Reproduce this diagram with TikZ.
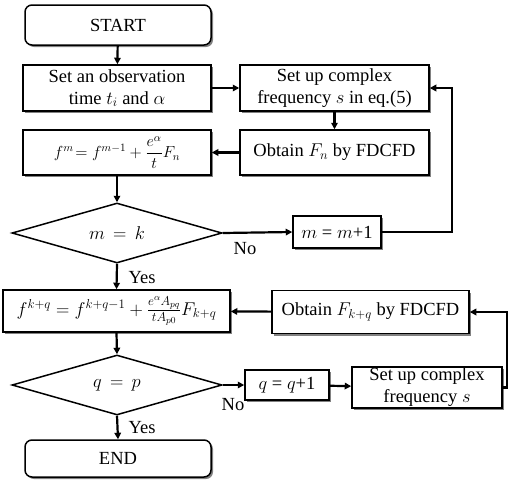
\RequirePackage{fix-cm}
\documentclass[tikz,border=0pt]{standalone}
\usepackage{amsmath}
\usepackage{fontspec}
\setmainfont{Liberation Serif}
\usetikzlibrary{shapes.geometric,shadows,arrows.meta}
\begin{document}
\begin{tikzpicture}[x=1pt,y=-1pt,
  font=\fontsize{18.5}{22}\selectfont,
  shad/.style={drop shadow={shadow xshift=2pt,shadow yshift=-2pt,fill=black!70,opacity=0.7}},
  box/.style={draw,line width=1.5pt,fill=white,shad,align=center,inner sep=1pt},
  term/.style={box,rounded corners=7pt},
  dec/.style={diamond,draw,line width=1.5pt,fill=white,inner sep=0pt,aspect=3.5},
  arr/.style={line width=2.2pt,-{Triangle[length=6.5pt,width=6.5pt]}},
  lab/.style={inner sep=0pt}]
\useasboundingbox (0,0) rectangle (509,485);
\node[term,minimum width=186pt,minimum height=40pt] (start) at (118,25) {START};
\node[box,minimum width=188pt,minimum height=46pt] (b1) at (117,88) {Set an observation\\time $t_i$ and $\alpha$};
\node[box,minimum width=189pt,minimum height=46pt] (b2) at (334.5,88) {Set up complex\\frequency $s$ in eq.(5)};
\node[box,minimum width=188pt,minimum height=45pt,font=\fontsize{16}{19}\selectfont] (b3) at (117,152.5) {$f^m\!= f^{m-1} + \dfrac{e^\alpha}{t}F_n$};
\node[box,minimum width=189pt,minimum height=45pt] (b4) at (334.5,152.5) {Obtain $F_n$ by FDCFD};
\node[dec,minimum width=210pt,minimum height=60pt] (d1) at (117,233) {$m\,=\,k$};
\node[box,minimum width=88pt,minimum height=32pt] (mm) at (337,232) {$m$ = $m$+1};
\node[box,minimum width=227pt,minimum height=42pt] (b5) at (116.5,311) {$f^{k+q} = f^{k+q-1} + \frac{e^\alpha A_{pq}}{tA_{p0}}F_{k+q}$};
\node[box,minimum width=197pt,minimum height=43pt] (b6) at (370.5,312) {Obtain $F_{k+q}$ by FDCFD};
\node[dec,minimum width=210pt,minimum height=60pt] (d2) at (117,385) {$q\,=\,p$};
\node[box,minimum width=84pt,minimum height=30pt] (qq) at (287,385) {$q$ = $q$+1};
\node[box,minimum width=150pt,minimum height=41pt] (b7) at (427,387.5) {Set up complex\\frequency $s$};
\node[term,minimum width=186pt,minimum height=37pt] (end) at (118,458.5) {END};
\coordinate (c1) at (452,232);
\coordinate (c2) at (452,88);
\coordinate (c3) at (507,387.5);
\coordinate (c4) at (507,312);
\draw[arr] (start) -- (b1);
\draw[arr] (b1) -- (b2);
\draw[arr] (b2) -- (b4);
\draw[arr] (b4) -- (b3);
\draw[arr] (b3) -- (d1);
\draw[arr] (d1.east) -- (mm.west);
\draw[arr] (mm.east) -- (c1) -- (c2) -- (b2.east);
\draw[arr] (d1.south) -- (b5.north);
\draw[arr] (b6) -- (b5);
\draw[arr] (b5.south) -- (d2.north);
\draw[arr] (d2.east) -- (qq.west);
\draw[arr] (qq) -- (b7);
\draw[arr] (b7.east) -- (c3) -- (c4) -- (b6.east);
\draw[arr] (d2.south) -- (end.north);
\node[lab] (no1) at (245,249) {No};
\node[lab] (yes1) at (142,278) {Yes};
\node[lab] (no2) at (233,405) {No};
\node[lab] (yes2) at (142,428) {Yes};
\end{tikzpicture}
\end{document}
